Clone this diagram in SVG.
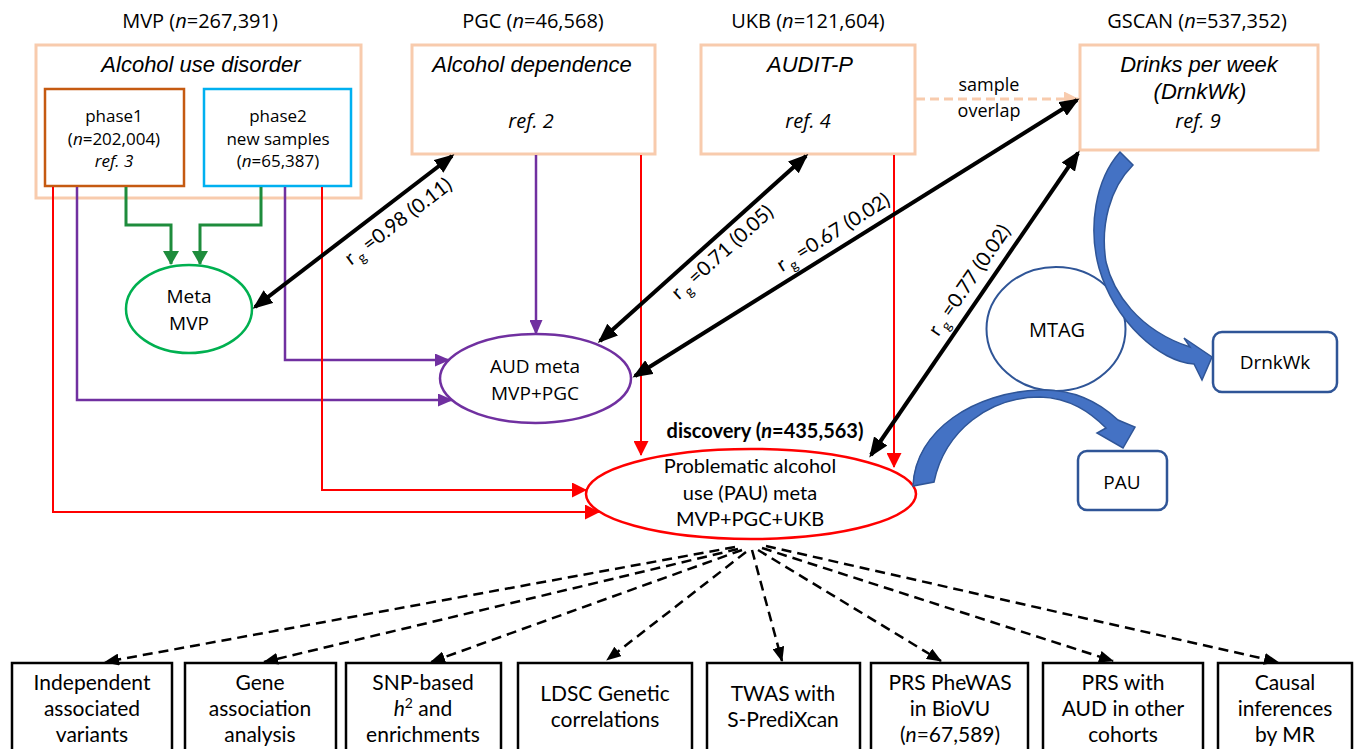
<svg xmlns="http://www.w3.org/2000/svg" width="1360" height="749" viewBox="0 0 1360 749">
<defs>
<style>
.os{font-family:"Open Sans","DejaVu Sans",sans-serif;fill:#000;text-anchor:middle}
.osi{font-family:"Open Sans","DejaVu Sans",sans-serif;font-style:italic;fill:#000;text-anchor:middle}
.ar{font-family:"Liberation Sans",Arial,sans-serif;font-style:italic;font-size:22px;fill:#000;text-anchor:middle}
.lt{font-family:Lato,"Open Sans",sans-serif;fill:#000;text-anchor:middle}
.src{fill:#fff;stroke:#F8CBAD;stroke-width:3}
.box{fill:#fff;stroke:#000;stroke-width:2.5}
.grn{fill:none;stroke:#1E8C3C;stroke-width:3;marker-end:url(#mG)}
.pur{fill:none;stroke:#7030A0;stroke-width:2.5;marker-end:url(#mP)}
.red{fill:none;stroke:#FF0000;stroke-width:2;marker-end:url(#mR)}
.blk{fill:none;stroke:#000;stroke-width:4;marker-start:url(#mK);marker-end:url(#mK)}
.dsh{fill:none;stroke:#000;stroke-width:2.5;stroke-dasharray:10 6;marker-end:url(#mD)}
.blu{fill:#4472C4;stroke:#2F5597;stroke-width:1.5}
.rg{font-size:20px}
</style>
<marker id="mG" markerUnits="userSpaceOnUse" markerWidth="14" markerHeight="16" refX="13" refY="8" orient="auto"><path d="M0,0 L14,8 L0,16 z" fill="#1E8C3C"/></marker>
<marker id="mP" markerUnits="userSpaceOnUse" markerWidth="15" markerHeight="13" refX="14" refY="6.5" orient="auto"><path d="M0,0 L15,6.5 L0,13 z" fill="#7030A0"/></marker>
<marker id="mR" markerUnits="userSpaceOnUse" markerWidth="15" markerHeight="15" refX="14" refY="7.5" orient="auto"><path d="M0,0 L15,7.5 L0,15 z" fill="#FF0000"/></marker>
<marker id="mK" markerUnits="userSpaceOnUse" markerWidth="20" markerHeight="16" refX="17" refY="8" orient="auto-start-reverse"><path d="M0,0 L20,8 L0,16 z" fill="#000"/></marker>
<marker id="mD" markerUnits="userSpaceOnUse" markerWidth="15" markerHeight="12" refX="14" refY="6" orient="auto"><path d="M0,0 L15,6 L0,12 z" fill="#000"/></marker>
<marker id="mO" markerUnits="userSpaceOnUse" markerWidth="15" markerHeight="15" refX="14" refY="7.5" orient="auto"><path d="M0,0 L15,7.5 L0,15 z" fill="#F8CBAD"/></marker>
</defs>
<rect width="1360" height="749" fill="#fff"/>

<g id="titles" class="os" font-size="20">
<text x="200" y="28">MVP (<tspan font-style="italic">n</tspan>=267,391)</text>
<text x="533" y="28">PGC (<tspan font-style="italic">n</tspan>=46,568)</text>
<text x="808" y="28">UKB (<tspan font-style="italic">n</tspan>=121,604)</text>
<text x="1197" y="28">GSCAN (<tspan font-style="italic">n</tspan>=537,352)</text>
</g>

<g id="mvp">
<rect class="src" x="36" y="45" width="325" height="153"/>
<text class="ar" x="201" y="72">Alcohol use disorder</text>
</g>
<g id="phase1">
<rect x="45" y="89" width="139" height="97" fill="#fff" stroke="#C55A11" stroke-width="2.5"/>
<text class="os" font-size="17" x="114" y="122">phase1</text>
<text class="os" font-size="17" x="114" y="145">(<tspan font-style="italic">n</tspan>=202,004)</text>
<text class="osi" font-size="17" x="114" y="167">ref. 3</text>
</g>
<g id="phase2">
<rect x="204" y="89" width="147" height="97" fill="#fff" stroke="#00B0F0" stroke-width="2.5"/>
<text class="os" font-size="17" x="278" y="122">phase2</text>
<text class="os" font-size="17" x="278" y="145">new samples</text>
<text class="os" font-size="17" x="278" y="167">(<tspan font-style="italic">n</tspan>=65,387)</text>
</g>
<g id="pgc">
<rect class="src" x="412" y="45" width="243" height="109"/>
<text class="ar" x="532" y="72">Alcohol dependence</text>
<text class="osi" font-size="20" x="531" y="128">ref. 2</text>
</g>
<g id="ukb">
<rect class="src" x="701" y="45" width="214" height="109"/>
<text class="ar" x="810" y="72">AUDIT-P</text>
<text class="osi" font-size="20" x="808" y="128">ref. 4</text>
</g>
<g id="gscan">
<rect class="src" x="1080" y="45" width="238" height="105"/>
<text class="ar" x="1199" y="72">Drinks per week</text>
<text class="ar" x="1200" y="99">(DrnkWk)</text>
<text class="osi" font-size="20" x="1198" y="128">ref. 9</text>
</g>
<g id="metamvp">
<ellipse cx="189" cy="309" rx="63" ry="44" fill="#fff" stroke="#00B050" stroke-width="2.5"/>
<text class="os" font-size="19" x="189" y="303">Meta</text>
<text class="os" font-size="19" x="189" y="330">MVP</text>
</g>
<g id="audmeta">
<ellipse cx="535.5" cy="378.5" rx="95.5" ry="44.5" fill="#fff" stroke="#7030A0" stroke-width="2.5"/>
<text class="os" font-size="19" x="535" y="373">AUD meta</text>
<text class="os" font-size="19" x="535" y="400">MVP+PGC</text>
</g>
<g id="pau">
<ellipse cx="751" cy="494" rx="165" ry="45" fill="#fff" stroke="#FF0000" stroke-width="2.5"/>
<text class="lt" font-size="20" font-weight="bold" x="765" y="438">discovery (<tspan font-style="italic">n</tspan>=435,563)</text>
<text class="lt" font-size="20" x="750" y="473">Problematic alcohol</text>
<text class="lt" font-size="20" x="750" y="500">use (PAU) meta</text>
<text class="lt" font-size="20" x="750" y="526">MVP+PGC+UKB</text>
</g>
<g id="mtag">
<ellipse cx="1056" cy="329" rx="69.5" ry="62" fill="#fff" stroke="#2F5597" stroke-width="2"/>
<text class="os" font-size="20" x="1057" y="337">MTAG</text>
</g>
<g id="drnkwk">
<rect x="1213" y="332" width="124" height="60" rx="9" fill="#fff" stroke="#2F5597" stroke-width="2.5"/>
<text class="os" font-size="19" x="1275" y="369">DrnkWk</text>
</g>
<g id="paubox">
<rect x="1078" y="451" width="89" height="59" rx="9" fill="#fff" stroke="#2F5597" stroke-width="2.5"/>
<text class="os" font-size="19" x="1122" y="489">PAU</text>
</g>

<g id="b1"><rect class="box" x="12" y="663" width="160" height="95"/>
<text class="lt" font-size="21" x="92" y="690">Independent</text><text class="lt" font-size="21" x="92" y="716">associated</text><text class="lt" font-size="21" x="92" y="742">variants</text></g>
<g id="b2"><rect class="box" x="185" y="663" width="151" height="95"/>
<text class="lt" font-size="21" x="260" y="690">Gene</text><text class="lt" font-size="21" x="260" y="716">association</text><text class="lt" font-size="21" x="260" y="742">analysis</text></g>
<g id="b3"><rect class="box" x="346" y="663" width="155" height="95"/>
<text class="lt" font-size="21" x="423" y="690">SNP-based</text><text class="lt" font-size="21" x="423" y="716"><tspan font-style="italic">h</tspan><tspan font-size="14" dy="-8">2</tspan><tspan dy="8"> and</tspan></text><text class="lt" font-size="21" x="423" y="742">enrichments</text></g>
<g id="b4"><rect class="box" x="518" y="663" width="174" height="95"/>
<text class="lt" font-size="21" x="605" y="701">LDSC Genetic</text><text class="lt" font-size="21" x="605" y="727">correlations</text></g>
<g id="b5"><rect class="box" x="707" y="663" width="153" height="95"/>
<text class="lt" font-size="21" x="783" y="701">TWAS with</text><text class="lt" font-size="21" x="783" y="727">S-PrediXcan</text></g>
<g id="b6"><rect class="box" x="871" y="663" width="157" height="95"/>
<text class="lt" font-size="21" x="950" y="690">PRS PheWAS</text><text class="lt" font-size="21" x="950" y="716">in BioVU</text><text class="lt" font-size="21" x="950" y="742">(<tspan font-style="italic">n</tspan>=67,589)</text></g>
<g id="b7"><rect class="box" x="1043" y="663" width="160" height="95"/>
<text class="lt" font-size="21" x="1123" y="690">PRS with</text><text class="lt" font-size="21" x="1123" y="716">AUD in other</text><text class="lt" font-size="21" x="1123" y="742">cohorts</text></g>
<g id="b8"><rect class="box" x="1218" y="663" width="134" height="95"/>
<text class="lt" font-size="21" x="1285" y="690">Causal</text><text class="lt" font-size="21" x="1285" y="716">inferences</text><text class="lt" font-size="21" x="1285" y="742">by MR</text></g>

<g id="connectors">
<path class="grn" d="M126,187 V225 H171 V264"/>
<path class="grn" d="M261,187 V225 H200 V264"/>
<path class="pur" d="M77,187 V400 H452"/>
<path class="pur" d="M285,187 V360 H449"/>
<path class="pur" d="M536,155 V334"/>
<path class="red" d="M53,187 V512 H599"/>
<path class="red" d="M322,187 V490 H586"/>
<path class="red" d="M641,155 V455"/>
<path class="red" d="M894,155 V467"/>
<path d="M916,99 H1078" fill="none" stroke="#F8CBAD" stroke-width="3" stroke-dasharray="9 5" marker-end="url(#mO)"/>
<path class="blk" d="M255,307 L452,156"/>
<path class="blk" d="M600,341 L806,156"/>
<path class="blk" d="M635,376 L1077,100"/>
<path class="blk" d="M871,455 L1078,153"/>
<path class="dsh" d="M735,547 L105,662"/>
<path class="dsh" d="M738,549 L264,662"/>
<path class="dsh" d="M742,550 L431,662"/>
<path class="dsh" d="M746,552 L607,660"/>
<path class="dsh" d="M752,550 L782,661"/>
<path class="dsh" d="M758,550 L941,661"/>
<path class="dsh" d="M762,548 L1113,661"/>
<path class="dsh" d="M766,546 L1278,662"/>
<path class="blu" d="M1120,152 L1133,165 C1110,188 1100,225 1106,262 C1113,292 1138,330 1190,347 L1184,338 L1212,357 L1202,380 L1194,364 C1160,362 1115,322 1099,268 C1088,228 1095,180 1120,152 Z"/>
<path class="blu" d="M913,486 C915,430 975,392 1040,390 C1075,389 1100,403 1118,420 L1135,427 L1123,448 L1097,433 L1106,428 C1090,412 1070,398 1040,397 C990,397 945,430 934,482 Z"/>
</g>

<g id="labels">
<text class="os" font-size="18" x="989" y="91">sample</text>
<text class="os" font-size="18" x="989" y="117">overlap</text>
<text class="lt rg" transform="translate(398,221) rotate(-37.3)" dy="7">r<tspan font-size="14" dx="3" dy="5">g</tspan><tspan dy="-5"> =0.98 (0.11)</tspan></text>
<text class="lt rg" transform="translate(722,252) rotate(-42)" dy="7">r<tspan font-size="14" dx="3" dy="5">g</tspan><tspan dy="-5"> =0.71 (0.05)</tspan></text>
<text class="lt rg" transform="translate(833,232) rotate(-32)" dy="7">r<tspan font-size="14" dx="3" dy="5">g</tspan><tspan dy="-5"> =0.67 (0.02)</tspan></text>
<text class="lt rg" transform="translate(969,280) rotate(-55.6)" dy="7">r<tspan font-size="14" dx="3" dy="5">g</tspan><tspan dy="-5"> =0.77 (0.02)</tspan></text>
</g>
</svg>
